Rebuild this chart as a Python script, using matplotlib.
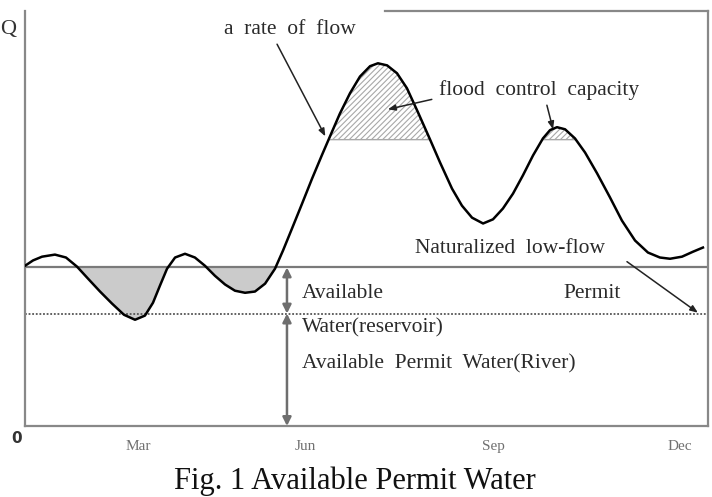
import numpy as np
import matplotlib
matplotlib.use("Agg")
import matplotlib.pyplot as plt

plt.rcParams['font.family'] = ['Liberation Serif', 'DejaVu Serif']

# day of year vs. flow
day = [0, 4.3, 9.1, 16.0, 21.9, 27.8, 33.7, 40.1, 46.5, 52.9, 58.8, 64.1, 68.4, 72.1,
       75.9, 80.2, 85.5, 90.8, 96.2, 101.5, 106.9, 112.2, 117.6, 122.9, 128.3, 133.6,
       137.9, 142.7, 148.0, 153.4, 158.7, 163.0, 168.3, 173.7, 179.0, 184.4, 188.6,
       193.5, 198.8, 204.1, 210.0, 216.4, 221.8, 228.2, 233.5, 238.9, 244.8, 250.1,
       255.4, 260.8, 266.1, 271.5, 276.8, 280.6, 284.3, 288.6, 293.9, 299.3, 305.7,
       312.6, 319.0, 326.0, 332.9, 339.3, 344.7, 351.1, 357.0, 362.3]
flow = [38.6, 39.9, 40.8, 41.3, 40.6, 38.4, 35.5, 32.4, 29.5, 26.8, 25.6, 26.6, 29.7, 33.8,
        37.9, 40.6, 41.5, 40.6, 38.6, 36.2, 34.1, 32.6, 32.1, 32.4, 34.3, 37.9,
        42.3, 47.6, 53.5, 59.6, 65.3, 69.8, 75.3, 80.2, 84.2, 86.7, 87.4,
        86.9, 85.0, 81.4, 75.6, 69.1, 63.5, 57.2, 53.1, 50.2, 48.8, 49.8,
        52.4, 56.0, 60.4, 65.2, 69.3, 71.3, 72.0, 71.5, 69.3, 65.9, 60.9,
        55.1, 49.5, 44.7, 41.8, 40.6, 40.3, 40.8, 42.0, 43.0]

low_flow = 38.2
reservoir_level = 27.1
flood_level = 69.0
arrow_day = 140.0

tick_pos = [60.4, 149.6, 250.6, 350.0]
tick_lab = ['Mar', 'Jun', 'Sep', 'Dec']

x = np.array(day)
q = np.array(flow)

fig = plt.figure(figsize=(7.12, 4.97), dpi=100)
ax = fig.add_axes([25 / 712, 1 - 426 / 497, 683 / 712, 415 / 497])
ax.set_xlim(0, 365)
ax.set_ylim(0, 100)

# shaded deficit below the low-flow line
ax.fill_between(x, q, low_flow, where=q < low_flow, interpolate=True,
                facecolor='#cbcbcb', edgecolor='none', zorder=1)
# hatched flood control volume
plt.rcParams['hatch.linewidth'] = 0.8
ax.fill_between(x, q, flood_level, where=q > flood_level, interpolate=True,
                facecolor='white', edgecolor='#a8a8a8', hatch='//////', linewidth=1.0, zorder=1)

ax.axhline(low_flow, color='#7a7a7a', lw=1.6, zorder=2)
ax.hlines(reservoir_level, 0, 364, colors='#555555', linestyles=(0, (1, 1)), lw=1.3, zorder=2)

ax.plot(x, q, color='black', lw=1.8, zorder=3, solid_joinstyle='round')

# vertical double arrows
arr = dict(arrowstyle='<|-|>,head_length=0.5,head_width=0.25', color='#6e6e6e', lw=1.8,
           shrinkA=0, shrinkB=0)
ax.annotate('', xy=(arrow_day, low_flow), xytext=(arrow_day, reservoir_level), arrowprops=arr)
ax.annotate('', xy=(arrow_day, reservoir_level), xytext=(arrow_day, 0), arrowprops=arr)

pointer = dict(arrowstyle='-|>,head_length=0.45,head_width=0.18', color='#222222', lw=1.1,
               shrinkA=0, shrinkB=0)
txt = dict(fontsize=15.5, color='#2a2a2a')
ax.annotate('', xy=(160.5, 69.8), xytext=(134.7, 92.0), arrowprops=pointer)
ax.text(141.3, 95.5, 'a  rate  of  flow', ha='center', va='center', **txt)
ax.annotate('', xy=(193.9, 76.3), xytext=(217.4, 78.7), arrowprops=pointer)
ax.annotate('', xy=(282.2, 71.5), xytext=(278.9, 77.3), arrowprops=pointer)
ax.text(221.2, 80.9, 'flood  control  capacity', ha='left', va='center', **txt)
ax.text(208.4, 42.7, 'Naturalized  low-flow', ha='left', va='center', **txt)
ax.annotate('', xy=(359.6, 27.3), xytext=(321.7, 39.6), arrowprops=pointer)
ax.text(148.0, 32.0, 'Available', ha='left', va='center', **txt)
ax.text(287.5, 32.0, 'Permit', ha='left', va='center', **txt)
ax.text(148.0, 23.6, 'Water(reservoir)', ha='left', va='center', **txt)
ax.text(148.0, 14.9, 'Available  Permit  Water(River)', ha='left', va='center', **txt)

ax.text(-0.025, 0.955, 'Q', transform=ax.transAxes, ha='center', va='center',
        fontsize=16, color='#333333')
ax.text(-0.012, -0.03, '0', transform=ax.transAxes, ha='center', va='center',
        fontsize=11, color='#333333', family='DejaVu Sans', fontweight='bold')

ax.set_xticks(tick_pos)
ax.set_xticklabels(tick_lab, fontsize=11, color='#707070')
ax.set_yticks([])
ax.tick_params(axis='x', length=0, pad=10)

for s in ax.spines.values():
    s.set_color('#888888')
    s.set_linewidth(1.6)
ax.spines['top'].set_bounds(192.4, 365)

fig.text(0.499, 1 - 481 / 497, 'Fig. 1 Available Permit Water', ha='center', va='center',
         fontsize=22, color='#111111')

fig.savefig('out.png', dpi=100)
